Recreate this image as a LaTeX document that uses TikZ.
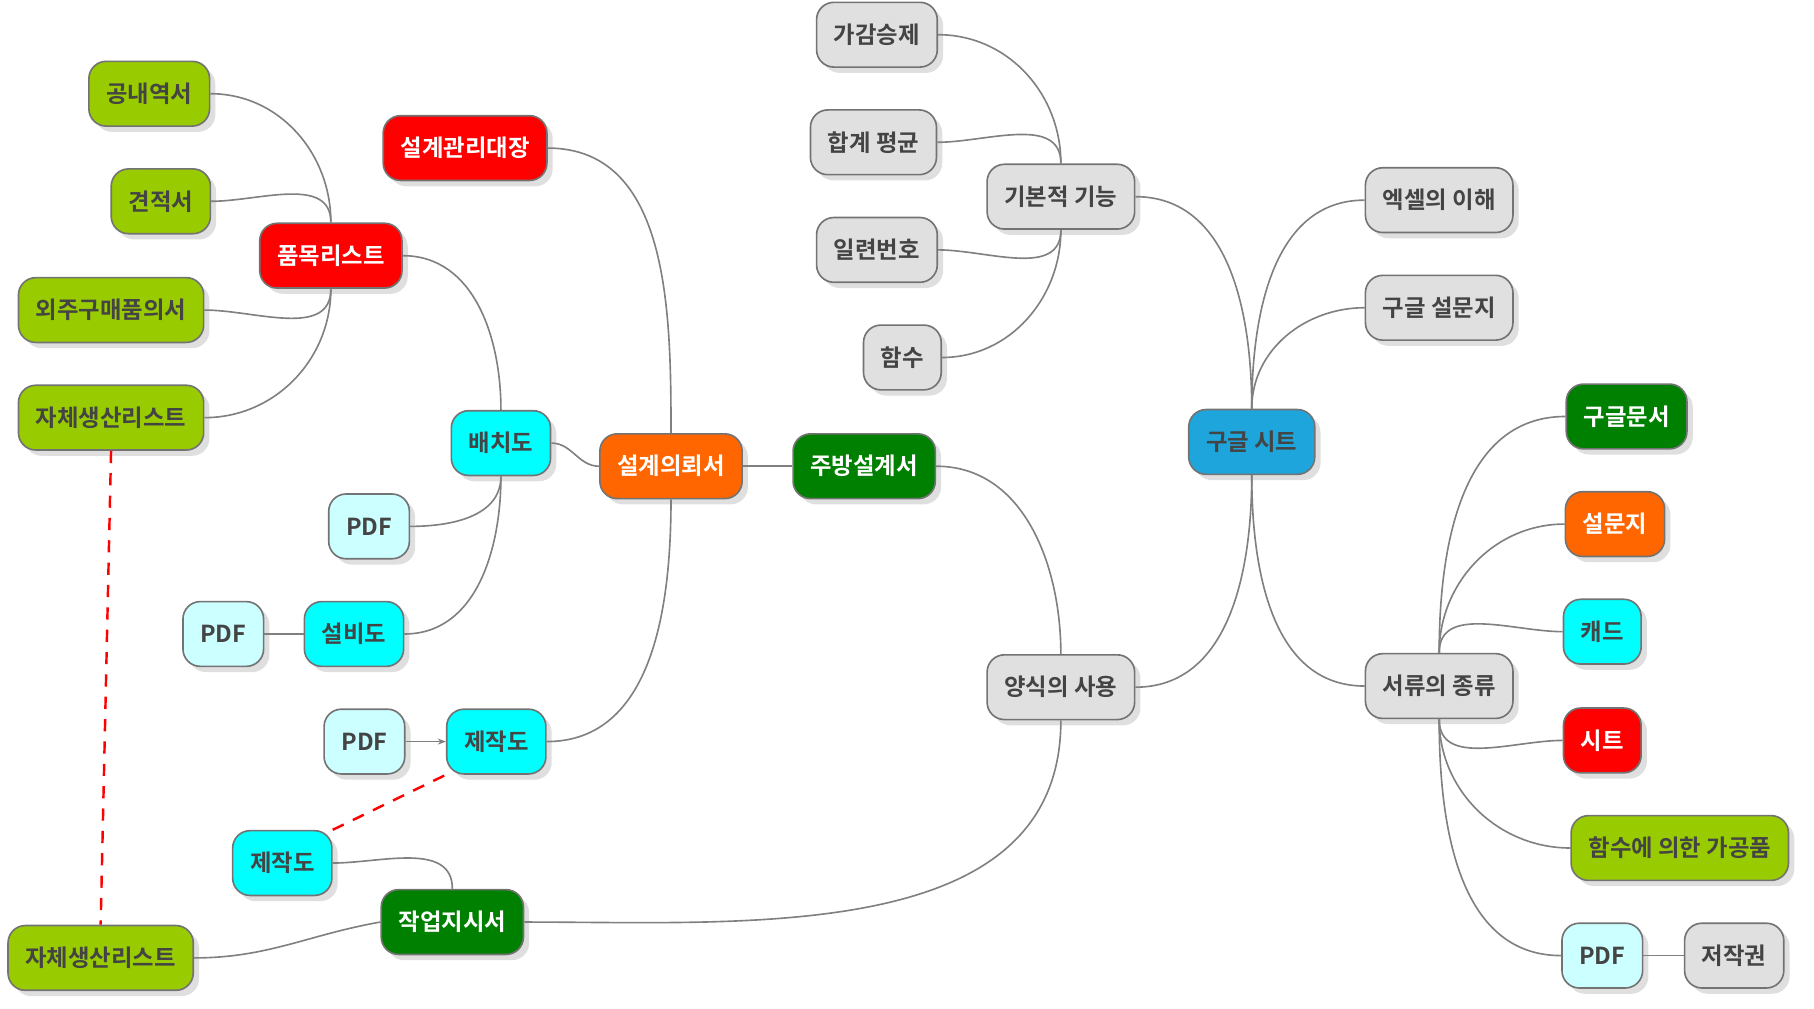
\documentclass[tikz,border=0pt]{standalone}
\usepackage{fontspec}
\setmainfont{Noto Sans CJK KR}[BoldFont={Noto Sans CJK KR Bold}]
\usepackage{tikz}
\usetikzlibrary{shadows,positioning,arrows.meta}
\definecolor{mygrey}{RGB}{224,224,224}
\definecolor{myred}{RGB}{255,0,0}
\definecolor{myorange}{RGB}{255,102,0}
\definecolor{mygreen}{RGB}{0,128,0}
\definecolor{mycyan}{RGB}{0,255,255}
\definecolor{mylightcyan}{RGB}{204,255,255}
\definecolor{myolive}{RGB}{153,204,0}
\definecolor{myblue}{RGB}{30,166,220}
\definecolor{mytext}{RGB}{68,68,68}
\begin{document}
\begin{tikzpicture}[
  x=0.02cm, y=-0.02cm,
  font=\fontsize{11.5pt}{13pt}\selectfont\bfseries,
  box/.style={
    draw=gray!90!black,
    line width=0.8pt,
    rounded corners=0.3cm,
    minimum height=1.12cm,
    inner xsep=0.3cm,
    text=mytext,
    fill=#1,
    drop shadow={opacity=0.25, shadow xshift=0.1cm, shadow yshift=-0.1cm}
  },
  wbox/.style={box=#1, text=white},
  link/.style={draw=gray, line width=0.8pt},
  dashlink/.style={draw=red, line width=1.2pt, dash pattern=on 6pt off 5pt}
]
\useasboundingbox (0,0) rectangle (1568,872);

% root and right side
\node[box=myblue]      (sheet)    at (1082,382) {구글 시트};
\node[box=mygrey]      (excel)    at (1244,173) {엑셀의 이해};
\node[box=mygrey]      (survey)   at (1244,266) {구글 설문지};
\node[box=mygrey]      (kinds)    at (1244,593) {서류의 종류};
\node[wbox=mygreen]    (gdoc)     at (1406,360) {구글문서};
\node[wbox=myorange]   (quest)    at (1396,453) {설문지};
\node[box=mycyan]      (cad)      at (1385,546) {캐드};
\node[wbox=myred]      (sht)      at (1385,640) {시트};
\node[box=myolive]     (func)     at (1452,733) {함수에 의한 가공품};
\node[box=mylightcyan] (pdfr)     at (1385,826) {PDF};
\node[box=mygrey]      (copy)     at (1499,826) {저작권};

% basic functions
\node[box=mygrey] (basic)  at (917,170) {기본적 기능};
\node[box=mygrey] (arith)  at (758,30)  {가감승제};
\node[box=mygrey] (sumavg) at (755,123) {합계 평균};
\node[box=mygrey] (serial) at (758,216) {일련번호};
\node[box=mygrey] (fn)     at (780,309) {함수};

% forms
\node[box=mygrey]    (form)    at (917,594) {양식의 사용};
\node[wbox=mygreen]  (kitchen) at (747,403) {주방설계서};
\node[wbox=myorange] (request) at (580,403) {설계의뢰서};
\node[wbox=myred]    (ledger)  at (402,128) {설계관리대장};
\node[box=mycyan]    (layout)  at (433,383) {배치도};
\node[box=mylightcyan] (pdfa)  at (319,455) {PDF};
\node[box=mycyan]    (equip)   at (306,548) {설비도};
\node[box=mylightcyan] (pdfb)  at (193,548) {PDF};
\node[box=mycyan]    (make)    at (429,641) {제작도};
\node[box=mylightcyan] (pdfc)  at (315,641) {PDF};
\node[box=mycyan]    (make2)   at (244,746) {제작도};
\node[wbox=mygreen]  (order)   at (391,797) {작업지시서};
\node[box=myolive]   (self2)   at (87,828)  {자체생산리스트};
\node[wbox=myred]    (items)   at (286,221) {품목리스트};
\node[box=myolive]   (inner)   at (129,81)  {공내역서};
\node[box=myolive]   (quote)   at (139,174) {견적서};
\node[box=myolive]   (outs)    at (96,268)  {외주구매품의서};
\node[box=myolive]   (self1)   at (96,361)  {자체생산리스트};

% connectors
\draw[link] (sheet.north) to[out=90,in=0] (basic.east);
\draw[link] (sheet.south) to[out=270,in=0] (form.east);
\draw[link] (sheet.north) to[out=90,in=180] (excel.west);
\draw[link] (sheet.north) to[out=90,in=180] (survey.west);
\draw[link] (sheet.south) to[out=270,in=180] (kinds.west);
\foreach \c in {gdoc,quest,cad}
  \draw[link] (kinds.north) to[out=90,in=180] (\c.west);
\foreach \c in {sht,func,pdfr}
  \draw[link] (kinds.south) to[out=270,in=180] (\c.west);
\draw[link] (pdfr) -- (copy);
\foreach \c in {arith,sumavg}
  \draw[link] (basic.north) to[out=90,in=0] (\c.east);
\foreach \c in {serial,fn}
  \draw[link] (basic.south) to[out=270,in=0] (\c.east);
\draw[link] (form.north) to[out=90,in=0] (kitchen.east);
\draw[link] (form.south) to[out=270,in=0] (order.east);
\draw[link] (kitchen) -- (request);
\draw[link] (request.north) to[out=90,in=0] (ledger.east);
\draw[link] (request.west) to[out=180,in=0] (layout.east);
\draw[link] (request.south) to[out=270,in=0] (make.east);
\draw[link] (layout.north) to[out=90,in=0] (items.east);
\draw[link] (layout.south) to[out=270,in=0] (pdfa.east);
\draw[link] (layout.south) to[out=270,in=0] (equip.east);
\draw[link] (equip) -- (pdfb);
\draw[link,-{Stealth[length=4pt]}] (pdfc) -- (make);
\foreach \c in {inner,quote}
  \draw[link] (items.north) to[out=90,in=0] (\c.east);
\foreach \c in {outs,self1}
  \draw[link] (items.south) to[out=270,in=0] (\c.east);
\draw[link] (order.north) to[out=90,in=0] (make2.east);
\draw[link] (order.west) to[out=190,in=0] (self2.east);
\draw[dashlink] (make2.north east) -- (make.south west);
\draw[dashlink] (self1.south) -- (self2.north);
\end{tikzpicture}
\end{document}
